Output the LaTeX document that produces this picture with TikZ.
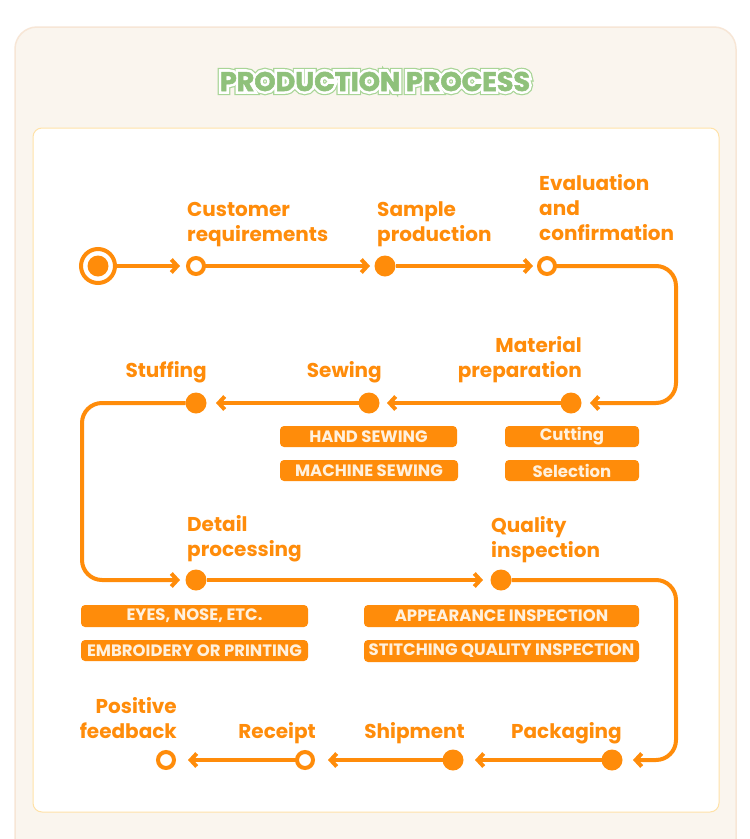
\documentclass[tikz,border=0pt]{standalone}
\usepackage{fontspec}
\usetikzlibrary{arrows.meta}
\newfontfamily\pop{Poppins}
\newfontfamily\titO{Poppins}[BoldFeatures={FakeBold=30}]
\newfontfamily\titW{Poppins}[BoldFeatures={FakeBold=21}]
\newfontfamily\titG{Poppins}[BoldFeatures={FakeBold=2}]
\definecolor{org}{HTML}{FF8C0A}
\definecolor{cream}{HTML}{FFF1DE}
\definecolor{cardbg}{HTML}{FAF5EE}
\definecolor{cardedge}{HTML}{F7E6D6}
\definecolor{innerb}{HTML}{FFE2A8}
\definecolor{tgreen}{HTML}{8FC17B}
\definecolor{tgreenl}{HTML}{A9D597}
\tikzset{
  flow/.style={draw=org, line width=4pt, -{Straight Barb[length=6pt,width=13pt]}},
  hollow/.style={circle, draw=org, line width=4pt, fill=white, minimum size=16pt, inner sep=0pt, outer sep=0pt},
  solid/.style={circle, fill=org, minimum size=21pt, inner sep=0pt, outer sep=0pt},
  startring/.style={circle, draw=org, line width=4pt, fill=white, minimum size=34pt, inner sep=0pt, outer sep=0pt},
  lab/.style={font=\pop\bfseries\fontsize{20}{25}\selectfont, text=org, inner sep=0pt, text depth=0pt},
  labl/.style={lab, align=left, anchor=south west},
  labr/.style={lab, align=right, anchor=south east},
  tag/.style={rectangle, rounded corners=4pt, fill=org, text=cream, font=\pop\bfseries\fontsize{16.5}{18}\selectfont, minimum height=21pt, inner sep=0pt},
  ttl/.style={inner sep=0pt, anchor=base},
}
\begin{document}
\begin{tikzpicture}[x=1pt,y=-1pt]
\useasboundingbox (0,0) rectangle (750,839);
\fill[white] (0,0) rectangle (750,839);
% outer card
\fill[cardbg, draw=cardedge, line width=1.5pt, rounded corners=22pt] (15,27) rectangle (736,880);
% inner box
\draw[innerb, fill=white, line width=1pt, rounded corners=9pt] (33,128) rectangle (719,812);
% title (outer outline, white outline, green fill)
\node[ttl, text=tgreenl, font=\titO\bfseries\fontsize{27}{30}\selectfont] (titleO) at (375,91) {PRODUCTION PROCESS};
\node[ttl, text=white, font=\titW\bfseries\fontsize{27}{30}\selectfont] (titleW) at (375,91) {PRODUCTION PROCESS};
\node[ttl, text=tgreen, font=\titG\bfseries\fontsize{27}{30}\selectfont] (titleG) at (375,91) {PRODUCTION PROCESS};

% row 1 nodes
\node[startring] (n0) at (98,266) {};
\fill[org] (n0.center) circle (10.5pt);
\node[hollow] (n1) at (196,266) {};
\node[solid] (n2) at (385,266) {};
\node[hollow] (n3) at (547,266) {};
% row 2
\node[solid] (n4) at (571,403) {};
\node[solid] (n5) at (369,403) {};
\node[solid] (n6) at (196,403) {};
% row 3
\node[solid] (n7) at (196,580) {};
\node[solid] (n8) at (501,580) {};
% row 4
\node[solid] (n9) at (612,760) {};
\node[solid] (n10) at (453,760) {};
\node[hollow] (n11) at (305,760) {};
\node[hollow] (n12) at (166,760) {};

% corner coordinates
\coordinate (c1) at (676,266);
\coordinate (c2) at (676,403);
\coordinate (c3) at (82,403);
\coordinate (c4) at (82,580);
\coordinate (c5) at (676,580);
\coordinate (c6) at (676,760);

% connectors
\draw[flow, shorten >=8pt] (n0) -- (n1);
\draw[flow, shorten >=4.5pt] (n1) -- (n2);
\draw[flow, shorten >=6pt] (n2) -- (n3);
\draw[flow, rounded corners=20pt, shorten >=8.5pt] (n3) -- (c1) -- (c2) -- (n4);
\draw[flow, shorten >=7.5pt] (n4) -- (n5);
\draw[flow, shorten >=9.5pt] (n5) -- (n6);
\draw[flow, rounded corners=20pt, shorten >=5.5pt] (n6) -- (c3) -- (c4) -- (n7);
\draw[flow, shorten >=7.5pt] (n7) -- (n8);
\draw[flow, rounded corners=20pt, shorten >=10.5pt] (n8) -- (c5) -- (c6) -- (n9);
\draw[flow, shorten >=11.5pt] (n9) -- (n10);
\draw[flow, shorten >=15pt] (n10) -- (n11);
\draw[flow, shorten >=14pt] (n11) -- (n12);

% labels
\node[labl] (l1) at (187,242) {Customer\\requirements};
\node[labl] (l2) at (377,242) {Sample\\production};
\node[labl] (l3) at (539,241) {Evaluation\\and\\confirmation};
\node[labr] (l4) at (582,378) {Material\\preparation};
\node[labr] (l5) at (382,378) {Sewing};
\node[labr] (l6) at (207,378) {Stuffing};
\node[labl] (l7) at (187,557) {Detail\\processing};
\node[labl] (l8) at (491,558) {Quality\\inspection};
\node[labr] (l9) at (622,739) {Packaging};
\node[labr] (l10) at (465,739) {Shipment};
\node[labr] (l11) at (316,739) {Receipt};
\node[labr] (l12) at (177,739) {Positive\\feedback};

% tags
\node[tag, minimum width=177pt] (t1) at (368.5,436.5) {HAND SEWING};
\node[tag, minimum width=178pt] (t2) at (369,470.5) {MACHINE SEWING};
\node[tag, minimum width=134pt] (t3) at (572,436.5) {Cutting};
\node[tag, minimum width=134pt] (t4) at (572,470.5) {Selection};
\node[tag, minimum width=227pt, minimum height=22pt] (t5) at (194.5,616) {EYES, NOSE, ETC.};
\node[tag, minimum width=227pt] (t6) at (194.5,650.5) {EMBROIDERY OR PRINTING};
\node[tag, minimum width=275pt, minimum height=22pt] (t7) at (501.5,616) {APPEARANCE INSPECTION};
\node[tag, minimum width=275pt, minimum height=22pt] (t8) at (501.5,651) {STITCHING QUALITY INSPECTION};
\end{tikzpicture}
\end{document}
